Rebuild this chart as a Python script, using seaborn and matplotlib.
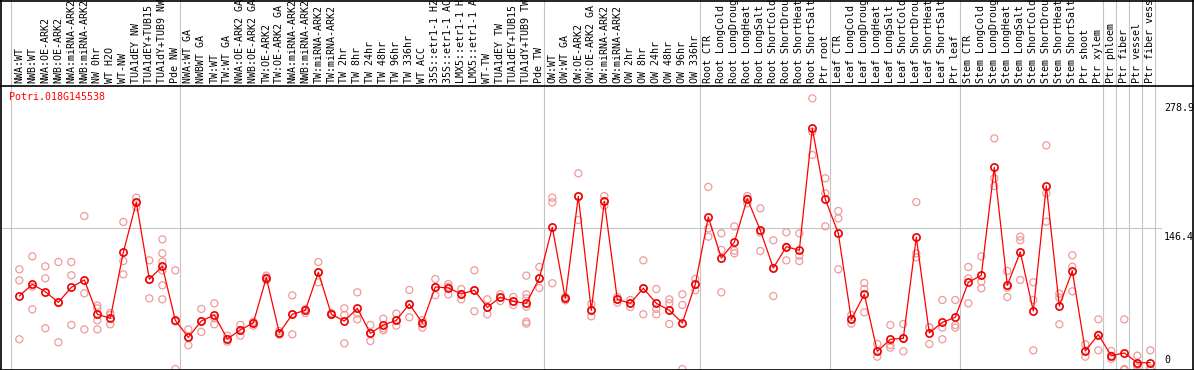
import numpy as np
import pandas as pd
import matplotlib
matplotlib.use("Agg")
import matplotlib.pyplot as plt
import seaborn as sns
from matplotlib.lines import Line2D

# --- data ---
gene_id = "Potri.018G145538"

samples = [
    "NWA:WT", "NWB:WT", "NWA:OE-ARK2", "NWB:OE-ARK2", "NWA:miRNA-ARK2", "NWB:miRNA-ARK2",
    "NW 0hr", "WT H2O", "WT-NW", "TUA1dEY NW", "TUA1dEY+TUB15 NW", "TUA1dY+TUB9 NW", "Pde NW",
    "NWA:WT GA", "NWBWT GA", "TW:WT", "TW:WT GA", "NWA:OE-ARK2 GA", "NWB:OE-ARK2 GA",
    "TW:OE-ARK2", "TW:OE-ARK2 GA", "NWA:miRNA-ARK2", "NWB:miRNA-ARK2", "TW:miRNA-ARK2",
    "TW:miRNA-ARK2", "TW 2hr", "TW 8hr", "TW 24hr", "TW 48hr", "TW 96hr", "TW 336hr", "WT ACC",
    "35S::etr1-1 H2O", "35S::etr1-1 ACC", "LMX5::etr1-1 H2O", "LMX5::etr1-1 ACC", "WT-TW",
    "TUA1dEY TW", "TUA1dEY+TUB15 TW", "TUA1dY+TUB9 TW", "Pde TW",
    "OW:WT", "OW:WT GA", "OW:OE-ARK2", "OW:OE-ARK2 GA", "OW:miRNA-ARK2", "OW:miRNA-ARK2",
    "OW 2hr", "OW 8hr", "OW 24hr", "OW 48hr", "OW 96hr", "OW 336hr",
    "Root CTR", "Root LongCold", "Root LongDrought", "Root LongHeat", "Root LongSalt",
    "Root ShortCold", "Root ShortDrought", "Root ShortHeat", "Root ShortSalt", "Ptr root",
    "Leaf CTR", "Leaf LongCold", "Leaf LongDrought", "Leaf LongHeat", "Leaf LongSalt",
    "Leaf ShortCold", "Leaf ShortDrought", "Leaf ShortHeat", "Leaf ShortSalt", "Ptr leaf",
    "Stem CTR", "Stem LongCold", "Stem LongDrought", "Stem LongHeat", "Stem LongSalt",
    "Stem ShortCold", "Stem ShortDrought", "Stem ShortHeat", "Stem ShortSalt",
    "Ptr shoot", "Ptr xylem", "Ptr phloem", "Ptr fiber", "Ptr vessel", "Ptr fiber vessel",
]

means = [76.1, 88.1, 80.6, 69.6, 85.0, 92.6, 57.3, 53.2, 121.1, 172.5,
         93.3, 106.7, 51.1, 33.6, 50.4, 56.6, 31.9, 41.2, 48.4, 95.0,
         38.1, 57.3, 61.4, 100.5, 57.3, 50.4, 63.4, 37.7, 46.3, 51.1,
         67.9, 48.4, 85.4, 84.4, 78.2, 82.0, 64.5, 74.8, 70.6, 68.6,
         94.3, 146.8, 73.7, 178.7, 61.4, 173.5, 72.7, 68.6, 84.0, 68.6,
         61.4, 48.4, 88.1, 157.4, 115.2, 131.3, 176.3, 143.7, 104.9, 126.9,
         123.1, 248.6, 175.6, 140.6, 52.1, 77.8, 19.2, 31.6, 32.6, 136.5,
         38.1, 49.0, 54.2, 90.2, 97.4, 208.5, 87.1, 121.4, 60.7, 189.3,
         65.8, 101.9, 19.5, 36.4, 14.7, 17.5, 7.5, 7.5]

replicates = [
    [103.6, 92.2, 31.6], [116.9, 85.7, 62.4], [106.7, 94.3, 42.9], [111.1, 69.2, 28.5],
    [111.1, 97.4, 46.3], [158.4, 78.9, 41.8], [66.2, 63.4, 51.1, 41.8], [58.6, 56.6, 47.0],
    [152.3, 112.1, 98.4], [177.3, 172.5, 167.7], [112.8, 92.6, 73.7],
    [134.4, 120.0, 111.5, 102.5, 87.1, 72.7], [102.5, 49.8, 1.0],
    [41.8, 33.6, 25.4], [62.8, 50.4, 39.1], [68.6, 53.2, 47.0], [35.3, 31.9, 29.1],
    [46.3, 41.2, 35.3], [49.7, 48.4, 45.6], [97.1, 95.0, 92.6], [40.0, 38.1, 36.4],
    [76.8, 57.3, 36.7], [62.8, 61.4, 58.6], [111.1, 100.5, 90.2], [58.6, 57.3, 56.6],
    [63.4, 56.6, 27.4], [79.9, 58.0, 52.1], [46.3, 37.7, 29.8], [52.8, 42.9, 40.8],
    [58.0, 51.1, 45.6], [82.3, 67.9, 54.2], [51.1, 48.4, 43.6], [93.6, 85.4, 76.8],
    [88.5, 85.7, 77.8], [83.3, 78.2, 72.7], [102.5, 82.0, 60.4], [72.7, 64.5, 57.3],
    [77.8, 74.8, 71.0], [75.1, 70.6, 66.9], [97.1, 77.8, 73.7, 65.2, 49.7, 47.7],
    [106.0, 94.3, 84.4],
    [177.3, 172.5, 89.2], [75.1, 73.7, 71.7], [202.3, 178.7, 154.3], [67.9, 61.4, 55.2],
    [179.0, 173.5, 169.1], [75.1, 72.7, 69.3], [72.0, 68.6, 64.8], [112.8, 84.0, 57.3],
    [83.3, 62.8, 57.3], [72.7, 68.6, 61.4, 47.3], [77.8, 66.9, 1.0], [93.6, 88.1, 82.0],
    [188.3, 145.7, 137.2], [140.6, 123.5, 79.9], [147.8, 122.8, 120.0], [179.0, 176.3, 171.5],
    [166.3, 141.3, 122.4], [133.4, 104.9, 76.1], [141.6, 126.9, 112.8], [140.6, 117.6, 112.1],
    [279.5, 245.2, 221.2], [197.2, 181.8, 147.8],
    [163.6, 156.0, 103.6], [56.6, 52.1, 47.7], [89.5, 83.3, 59.3], [26.7, 19.2, 13.7],
    [46.3, 25.7, 23.0], [47.3, 32.6, 19.2], [172.8, 120.0, 115.9], [43.9, 43.7, 26.7],
    [72.0, 43.6, 31.6], [72.0, 46.3, 43.6],
    [106.0, 94.3, 68.6], [116.9, 90.9, 84.0], [238.3, 197.2, 189.3], [101.9, 84.7, 75.1],
    [137.2, 133.4, 92.6], [90.2, 72.0, 20.2], [231.1, 181.8, 152.6], [78.5, 74.4, 47.0],
    [118.0, 106.3, 80.9], [26.4, 19.5, 13.7], [52.1, 36.4, 20.2],
    [19.5, 14.7, 11.3], [52.1, 1.0, 0.0], [14.7, 5.1, 2.4], [20.2, 1.7, 0.5],
]

# first sample of each block (separators drawn before these)
group_starts = [0, 13, 41, 53, 63, 73, 84, 85, 86, 87, 88]
y_ticks = [0, 146.4, 278.9]

# --- style ---
sns.set_theme(style="white")
plt.rcParams['font.family'] = ['DejaVu Sans Mono']
plt.rcParams['font.size'] = 7.2

W, H = 1194, 370
fig = plt.figure(figsize=(W / 100, H / 100), dpi=100)
fig.patch.set_facecolor('white')
ax_l, ax_r, ax_t, ax_b = 1, 1162, 86, 369
ax = fig.add_axes([ax_l / W, (H - ax_b) / H, (ax_r - ax_l) / W, (ax_b - ax_t) / H])
ax.set_facecolor('white')

x = np.arange(len(samples))
rep_df = pd.DataFrame([(i, v) for i, vals in enumerate(replicates) for v in vals],
                      columns=['idx', 'value'])
mean_df = pd.DataFrame({'idx': x, 'value': means})

# separators and reference gridline
grid_c = '#c4c4c4'
ext = 1 + (ax_t) / (ax_b - ax_t)
for g in group_starts:
    ax.axvline(g - 0.67, ymin=0, ymax=ext, color=grid_c, lw=0.8, clip_on=False, zorder=0)
ax.axhline(y_ticks[1], color=grid_c, lw=0.8, zorder=0)

# replicates
sns.scatterplot(data=rep_df, x='idx', y='value', ax=ax, marker='o', s=26,
                facecolor='none', edgecolor='#ef9a9a', linewidth=0.9, zorder=2, legend=False)
# mean line
sns.lineplot(data=mean_df, x='idx', y='value', ax=ax, color='#ff0000', lw=0.9,
             marker='o', markersize=5.2, markerfacecolor='none', markeredgecolor='#ee0000',
             markeredgewidth=1.2, zorder=3, legend=False)

ax.set_xlim(-1.41, 87.9)
ax.set_ylim(1.0, 292.2)
ax.set_xlabel("")
ax.set_ylabel("")
ax.set_yticks([])
ax.xaxis.tick_top()
ax.set_xticks(x)
ax.set_xticklabels(samples, rotation=90, fontsize=7.2, color='black')
ax.tick_params(axis='x', length=0, pad=2)
for sp in ax.spines.values():
    sp.set_visible(False)

# y value labels on the right
offsets = {0: (2, 5, 'bottom'), 1: (2, -4, 'top'), 2: (2, -4, 'top')}
for k, v in enumerate(y_ticks):
    dx, dy, va = offsets[k]
    lab = "0" if v == 0 else f"{v:.1f}"
    ax.annotate(lab, xy=(1, v), xycoords=('axes fraction', 'data'),
                xytext=(dx, dy), textcoords='offset pixels', va=va, ha='left',
                fontsize=7.2, color='black', annotation_clip=False)

ax.annotate(gene_id, xy=(0, 1), xycoords='axes fraction', xytext=(8, -6),
            textcoords='offset pixels', va='top', ha='left', color='#ff0000', fontsize=7.2)

# outer frame
def hline(ypix):
    fig.add_artist(Line2D([0, 1], [1 - ypix / H] * 2, color='black', lw=1.2,
                          transform=fig.transFigure))

def vline(xpix):
    fig.add_artist(Line2D([xpix / W] * 2, [0, 1], color='black', lw=1.2,
                          transform=fig.transFigure))

hline(0.5)
hline(ax_t)
hline(ax_b + 0.5)
vline(0.8)
vline(W - 0.8)

plt.savefig("out.png", dpi=100, facecolor='white')
plt.close()
